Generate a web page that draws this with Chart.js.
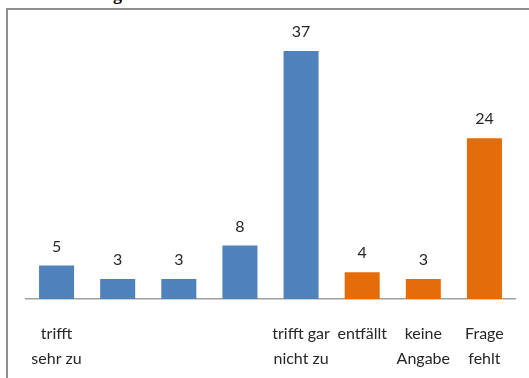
<!DOCTYPE html>
<html>
<head>
<meta charset="utf-8">
<script src="https://cdn.jsdelivr.net/npm/chart.js@4"></script>
<style>
  html, body { margin: 0; padding: 0; width: 529px; height: 378px; overflow: hidden; background: #fff; }
  #frame { position: absolute; left: 6px; top: 8px; width: 600px; height: 450px; border: 2px solid #8f8f8f; box-sizing: border-box; }
  #title { position: absolute; left: 113px; top: -16px; font: bold 18px "Liberation Serif", serif; color: #000; }
  #wrap { position: absolute; left: 0; top: 0; width: 529px; height: 378px; }
</style>
</head>
<body>
<div id="title">g</div>
<div id="frame"></div>
<div id="wrap"><canvas id="c" width="529" height="378"></canvas></div>
<script>
// Answer categories (multi-line labels as arrays)
const categories = [
  ['trifft', 'sehr zu'], '', '', '', ['trifft gar', 'nicht zu'],
  'entfällt', ['keine', 'Angabe'], ['Frage', 'fehlt']
];
// Counts on the rating scale
const ratingValues = [5, 3, 3, 8, 37, null, null, null];
// Counts for non-answers
const otherValues = [null, null, null, null, null, 4, 3, 24];

const TEXT = '#262626';
const FONT = 'Lato, "Open Sans", sans-serif';

// Writes each bar's value centred above it
const valueLabels = {
  id: 'valueLabels',
  afterDatasetsDraw(chart) {
    const ctx = chart.ctx;
    ctx.save();
    ctx.font = '16px ' + FONT;
    ctx.fillStyle = TEXT;
    ctx.textAlign = 'center';
    ctx.textBaseline = 'middle';
    chart.data.datasets.forEach((ds, di) => {
      chart.getDatasetMeta(di).data.forEach((bar, i) => {
        const v = ds.data[i];
        if (v === null || v === undefined) return;
        ctx.fillText(String(v), bar.x, bar.y - 19);
      });
    });
    ctx.restore();
  }
};

new Chart(document.getElementById('c'), {
  type: 'bar',
  data: {
    labels: categories,
    datasets: [
      { data: ratingValues, backgroundColor: '#4F81BD', barPercentage: 0.573, categoryPercentage: 1 },
      { data: otherValues, backgroundColor: '#E46C0A', barPercentage: 0.573, categoryPercentage: 1 }
    ]
  },
  options: {
    responsive: false,
    animation: false,
    layout: { padding: { left: 26, right: 14, top: 31, bottom: 0 } },
    plugins: { legend: { display: false }, tooltip: { enabled: false } },
    scales: {
      x: {
        stacked: true,
        grid: { display: false, drawTicks: false },
        border: { display: true, color: '#a0a0a0', width: 1.5 },
        ticks: {
          padding: 23,
          maxRotation: 0,
          autoSkip: false,
          color: TEXT,
          font: { family: FONT, size: 16, lineHeight: 1.53 }
        },
        afterFit(scale) { scale.height = 79; }
      },
      y: {
        stacked: true,
        display: false,
        min: 0,
        max: 40
      }
    }
  },
  plugins: [valueLabels]
});
</script>
</body>
</html>
